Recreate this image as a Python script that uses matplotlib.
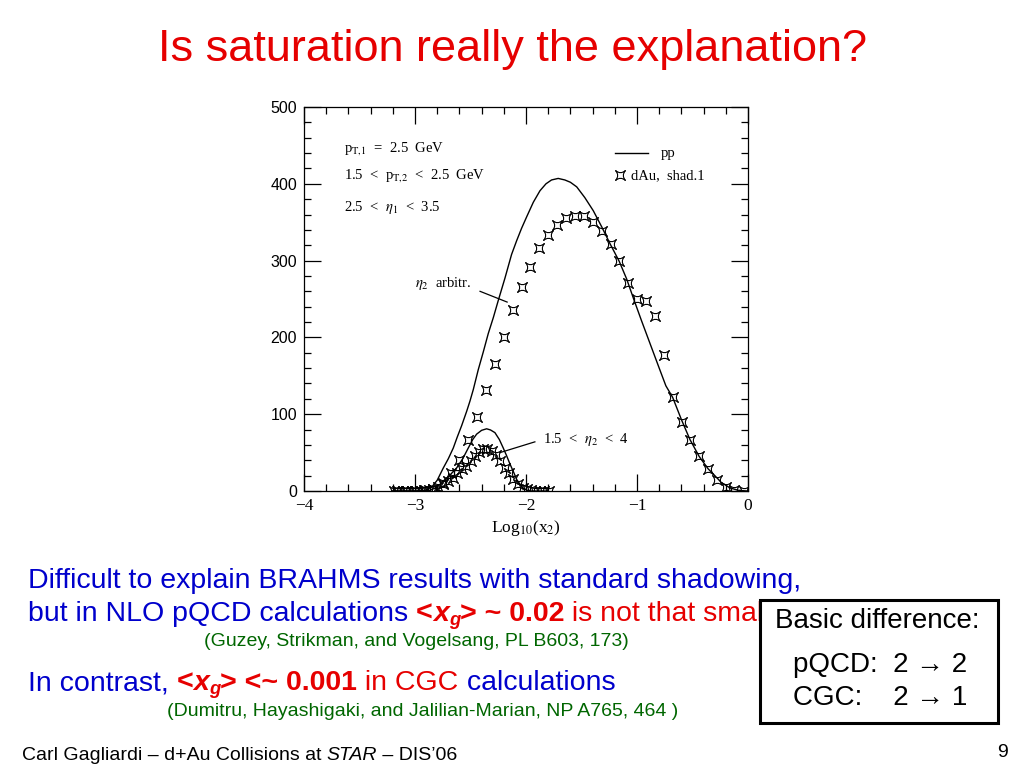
import matplotlib
matplotlib.use('Agg')
import matplotlib.pyplot as plt
from matplotlib.path import Path
from matplotlib.patches import Rectangle
from matplotlib.ticker import MultipleLocator

# pp curve, wide eta2 range (solid line)
pp_x = [-3.2, -3.0, -2.95, -2.91, -2.85, -2.80, -2.745, -2.70, -2.655, -2.62, -2.58, -2.534,
        -2.505, -2.475, -2.43, -2.385, -2.34, -2.294, -2.25, -2.19, -2.13, -2.084, -2.04,
        -1.994, -1.934, -1.874, -1.82, -1.77, -1.71, -1.65, -1.60, -1.543, -1.47, -1.394,
        -1.318, -1.243, -1.16, -1.093, -1.03, -0.96, -0.88, -0.80, -0.74, -0.679, -0.60,
        -0.523, -0.44, -0.36, -0.312, -0.24, -0.162, -0.09, -0.012]
pp_y = [0, 0, 0.5, 1, 5, 14, 30, 42, 56, 70, 85, 104,
        117, 132, 158, 181, 205, 226, 248, 277, 308, 326, 342,
        357, 376, 391, 400, 405, 407, 405, 402, 396, 382, 365,
        344, 322, 299, 276, 250, 222, 191, 160, 137, 122, 93,
        67, 45, 29, 22, 11, 4, 1, 0]

# dAu, shad.1, wide eta2 range (markers)
dau_x = [-3.16, -3.08, -3.00, -2.92, -2.84, -2.75, -2.676, -2.604, -2.52, -2.444, -2.36,
         -2.279, -2.198, -2.12, -2.04, -1.964, -1.883, -1.80, -1.72, -1.64, -1.56, -1.48,
         -1.40, -1.318, -1.237, -1.16, -1.08, -1.0, -0.919, -0.835, -0.757, -0.679, -0.598,
         -0.52, -0.441, -0.36, -0.282, -0.2, -0.123, -0.04]
dau_y = [0, 0, 0.5, 1, 3, 10, 23, 40, 67, 97, 131,
         165, 201, 236, 265, 292, 316, 333, 346, 355, 358, 358,
         350, 338, 321, 300, 271, 250, 247, 228, 177, 122, 90,
         67, 45, 28, 14, 5, 1, 0]

# pp curve, 1.5 < eta2 < 4
pp2_x = [-3.2, -2.95, -2.9, -2.865, -2.8, -2.745, -2.69, -2.625, -2.57, -2.52, -2.48, -2.445,
         -2.40, -2.355, -2.32, -2.28, -2.24, -2.205, -2.175, -2.144, -2.11, -2.084, -2.05,
         -2.024, -1.99, -1.95, -1.8]
pp2_y = [0, 0, 0.5, 1, 5, 13, 20, 30, 42, 56, 67, 74,
         79, 81, 79.5, 76, 67, 56, 46, 35, 24, 15, 8,
         3.5, 1, 0, 0]

# dAu, 1.5 < eta2 < 4
dau2_x = [-3.19, -3.15, -3.11, -3.07, -3.03, -2.99, -2.95, -2.91, -2.87, -2.835, -2.79,
          -2.745, -2.70, -2.66, -2.62, -2.58, -2.54, -2.498, -2.46, -2.42, -2.385, -2.35,
          -2.31, -2.27, -2.234, -2.19, -2.15, -2.114, -2.075, -2.03, -1.994, -1.955, -1.915,
          -1.875, -1.835, -1.795]
dau2_y = [0, 0, 0, 0, 0, 0, 0.5, 1, 1.5, 2, 5,
          9, 13, 17, 23, 28, 33, 39, 46, 51, 55, 55,
          52, 47, 39, 30, 23, 15, 9, 4, 2, 1, 0.5,
          0, 0, 0]

x_ticks = [-4, -3, -2, -1, 0]
x_tick_labels = ['\u22124', '\u22123', '\u22122', '\u22121', '0']
y_ticks = [0, 100, 200, 300, 400, 500]

W, H = 1024, 768
SANS = ['Liberation Sans', 'DejaVu Sans']

plt.rcParams['mathtext.fontset'] = 'stix'
plt.rcParams['font.family'] = SANS

BLUE = '#0000cc'
RED = '#e60000'
GREEN = '#006600'

# concave square marker
c = 0.15
star = Path([(1, 1), (0, c), (-1, 1), (-c, 0), (-1, -1), (0, -c), (1, -1), (c, 0), (1, 1), (1, 1)],
            [Path.MOVETO, Path.CURVE3, Path.CURVE3, Path.CURVE3, Path.CURVE3,
             Path.CURVE3, Path.CURVE3, Path.CURVE3, Path.CURVE3, Path.CLOSEPOLY])

fig = plt.figure(figsize=(W / 100, H / 100), dpi=100)
ax = fig.add_axes([304 / W, 1 - 491 / H, 444 / W, 384 / H])

ax.plot(pp_x, pp_y, color='black', lw=1.0)
ax.plot(pp2_x, pp2_y, color='black', lw=1.0)
mk = dict(marker=star, ms=7, mfc='none', mec='black', mew=0.8, ls='none')
ax.plot(dau_x, dau_y, **mk)
ax.plot(dau2_x, dau2_y, **mk)

ax.set_xlim(-4, 0)
ax.set_ylim(0, 500)
ax.set_xticks(x_ticks)
ax.set_xticklabels(x_tick_labels, family='Liberation Serif', fontsize=12.5)
ax.set_yticks(y_ticks)
ax.set_yticklabels([str(v) for v in y_ticks], family='Liberation Sans', fontsize=11.5)
ax.xaxis.set_minor_locator(MultipleLocator(0.2))
ax.yaxis.set_minor_locator(MultipleLocator(20))
ax.tick_params(which='both', direction='in', top=True, right=True, width=0.9)
ax.tick_params(which='major', length=12)
ax.tick_params(which='minor', length=5)
ax.tick_params(axis='x', pad=5)
ax.tick_params(axis='y', pad=5)
for s in ax.spines.values():
    s.set_linewidth(0.9)
ax.set_xlabel(r'Log$_{10}$(x$_2$)', family='Liberation Serif', fontsize=12.5, labelpad=3)

serif = dict(family='Liberation Serif', fontsize=10.5, color='black')
ax.text(-3.64, 446, r'p$_{\mathrm{T{,}1}}$  =  2.5  GeV', va='center', **serif)
ax.text(-3.64, 411, r'1.5  <  p$_{\mathrm{T{,}2}}$  <  2.5  GeV', va='center', **serif)
ax.text(-3.64, 369, r'2.5  <  $\eta_1$  <  3.5', va='center', **serif)
ax.text(-3.0, 270, r'$\eta_2$  arbitr.', va='center', **serif)
ax.plot([-2.414, -2.17], [260, 246], color='black', lw=0.9)
ax.text(-1.85, 67, r'1.5  <  $\eta_2$  <  4', va='center', **serif)
ax.plot([-1.92, -2.234], [64, 50], color='black', lw=0.9)

# legend drawn by hand like the original
ax.plot([-1.20, -0.90], [440, 440], color='black', lw=1.0)
ax.text(-0.79, 440, 'pp', va='center', **serif)
ax.plot([-1.15], [411], **mk)
ax.text(-1.05, 411, 'dAu,  shad.1', va='center', **serif)

renderer = fig.canvas.get_renderer()


def text_width(t):
    return t.get_window_extent(renderer).width


def draw_pieces(x_px, y_px, pieces):
    for text, color, weight, style, size, dy in pieces:
        fig.text(x_px / W, 1 - (y_px + dy) / H, text, color=color, fontweight=weight,
                 fontstyle=style, fontsize=size, va='baseline', ha='left', family=SANS)
        probe = fig.text(0, 0, text + '|', fontweight=weight, fontstyle=style,
                         fontsize=size, family=SANS)
        bar = fig.text(0, 0, '|', fontweight=weight, fontstyle=style,
                       fontsize=size, family=SANS)
        x_px += text_width(probe) - text_width(bar)
        probe.remove()
        bar.remove()


fig.text(0.5, 1 - 50 / H, 'Is saturation really the explanation?', color=RED,
         fontsize=32.5, ha='center', va='center')

fs = 20.5
draw_pieces(28, 588, [('Difficult to explain BRAHMS results with standard shadowing,', BLUE,
                       'normal', 'normal', fs, 0)])
draw_pieces(28, 621, [('but in NLO pQCD calculations ', BLUE, 'normal', 'normal', fs, 0),
                      ('<', RED, 'bold', 'normal', fs, 0),
                      ('x', RED, 'bold', 'italic', fs, 0),
                      ('g', RED, 'bold', 'italic', fs * 0.65, 4),
                      ('> ~ 0.02', RED, 'bold', 'normal', fs, 0),
                      (' is not that small', RED, 'normal', 'normal', fs, 0)])
fig.text(416 / W, 1 - 641 / H, '(Guzey, Strikman, and Vogelsang, PL B603, 173)', color=GREEN,
         fontsize=14, ha='center', va='center')
draw_pieces(28, 690, [('In contrast, ', BLUE, 'normal', 'normal', fs, 0),
                      ('<', RED, 'bold', 'normal', fs, 0),
                      ('x', RED, 'bold', 'italic', fs, 0),
                      ('g', RED, 'bold', 'italic', fs * 0.65, 4),
                      ('> <~ 0.001', RED, 'bold', 'normal', fs, 0),
                      (' in CGC', RED, 'normal', 'normal', fs, 0),
                      (' calculations', BLUE, 'normal', 'normal', fs, 0)])
fig.text(423 / W, 1 - 712 / H, '(Dumitru, Hayashigaki, and Jalilian-Marian, NP A765, 464 )',
         color=GREEN, fontsize=14, ha='center', va='center')

box = Rectangle((760 / W, 1 - 723 / H), 238 / W, 123 / H, transform=fig.transFigure,
                facecolor='white', edgecolor='black', lw=2.2, zorder=5)
fig.patches.append(box)
fig.text(877 / W, 1 - 621 / H, 'Basic difference:', fontsize=20, ha='center', va='center',
         zorder=6, color='black')
fig.text(880 / W, 1 - 665 / H, 'pQCD:  2 \u2192 2', fontsize=20, ha='center', va='center',
         zorder=6, color='black')
fig.text(880 / W, 1 - 698 / H, 'CGC:    2 \u2192 1', fontsize=20, ha='center', va='center',
         zorder=6, color='black')

draw_pieces(22, 760, [('Carl Gagliardi \u2013 d+Au Collisions at ', 'black', 'normal', 'normal', 14, 0),
                      ('STAR', 'black', 'normal', 'italic', 14, 0),
                      (' \u2013 DIS\u201906', 'black', 'normal', 'normal', 14, 0)])
fig.text(1008 / W, 1 - 757 / H, '9', fontsize=14, ha='right', va='baseline')

fig.savefig('out.png', dpi=100)
